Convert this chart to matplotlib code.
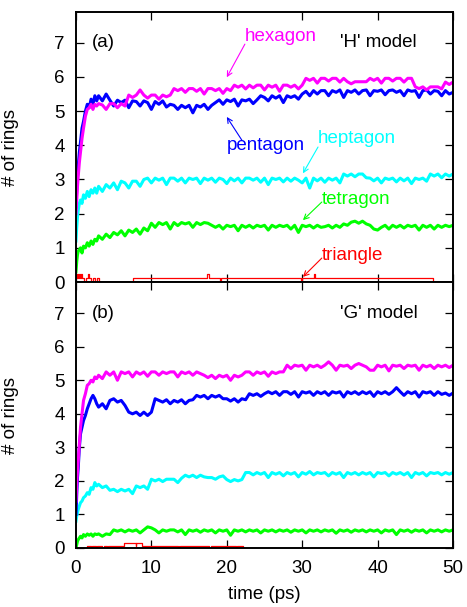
import numpy as np
import matplotlib.pyplot as plt

plt.rcParams['font.family'] = ['Liberation Sans', 'DejaVu Sans']
plt.rcParams['font.size'] = 13.5

# sampling times (ps): dense at the start, then every 0.5 ps
t_early = [0, 0.1, 0.2, 0.3, 0.45, 0.6, 0.8, 1.0, 1.25, 1.5, 1.75, 2.0, 2.25, 2.5, 2.75]
time = np.concatenate([t_early, np.arange(3.0, 50.01, 0.5)])

# ---- 'H' model ----
hex_h = [2.0, 2.4, 2.8, 3.1, 3.5, 3.8, 4.2, 4.5, 4.85, 5.05, 5.1, 5.2, 5.05, 5.2, 5.15,
         5.22, 5.18, 5.05, 5.22, 5.22, 5.1, 5.22, 5.15, 5.47, 5.40,
         5.47, 5.62, 5.47, 5.38, 5.47, 5.47, 5.35, 5.47, 5.42, 5.47,
         5.66, 5.6, 5.66, 5.55, 5.66, 5.66, 5.58, 5.66, 5.5, 5.66,
         5.66, 5.6, 5.66, 5.52, 5.66, 5.6, 5.76, 5.7, 5.76, 5.65,
         5.76, 5.68, 5.76, 5.76, 5.62, 5.76, 5.7, 5.76, 5.58, 5.76,
         5.76, 5.7, 5.76, 5.65, 5.76, 5.96, 5.9, 5.96, 5.82, 5.96,
         5.96, 5.88, 5.96, 5.96, 5.85, 5.96, 5.86, 5.8, 5.86, 5.86,
         5.86, 5.86, 5.96, 5.9, 5.96, 5.82, 5.96, 5.96, 5.88, 5.96,
         5.96, 5.85, 5.96, 5.96, 5.71, 5.66, 5.71, 5.62, 5.71, 5.71,
         5.71, 5.65, 5.85, 5.78, 5.85]
pent_h = [2.2, 2.7, 3.1, 3.4, 3.8, 4.1, 4.5, 4.7, 5.0, 5.2, 5.1, 5.35, 5.2, 5.45, 5.3,
          5.45, 5.3, 5.5, 5.32, 5.15, 5.32, 5.25, 5.32, 5.1, 5.3,
          5.28, 5.15, 5.3, 5.25, 5.05, 5.28, 5.2, 5.3, 5.12, 5.2,
          5.17, 5.05, 5.17, 5.1, 5.17, 4.95, 5.17, 5.12, 5.2, 5.05,
          5.17, 5.25, 5.33, 5.2, 5.33, 5.28, 5.35, 5.15, 5.33, 5.3,
          5.35, 5.22, 5.33, 5.45, 5.4, 5.3, 5.45, 5.38, 5.45, 5.25,
          5.45, 5.4, 5.45, 5.35, 5.5, 5.58, 5.45, 5.6, 5.5, 5.6,
          5.6, 5.45, 5.6, 5.55, 5.62, 5.4, 5.6, 5.55, 5.62, 5.5,
          5.6, 5.62, 5.45, 5.6, 5.58, 5.62, 5.48, 5.6, 5.62, 5.55,
          5.6, 5.45, 5.62, 5.58, 5.6, 5.4, 5.6, 5.62, 5.5, 5.6,
          5.58, 5.45, 5.6, 5.5, 5.55]
hept_h = [1.2, 1.6, 1.9, 2.1, 2.3, 2.4, 2.3, 2.55, 2.45, 2.65, 2.5, 2.7, 2.6, 2.75, 2.6,
          2.8, 2.65, 2.85, 2.75, 2.9, 2.7, 2.95, 2.9, 2.75, 2.95,
          2.95, 2.8, 3.0, 3.04, 2.9, 3.04, 2.98, 3.04, 2.85, 3.04,
          3.04, 2.95, 3.04, 2.9, 3.04, 3.0, 3.04, 2.88, 3.04, 2.98,
          3.04, 2.92, 3.04, 3.0, 2.88, 3.04, 2.96, 3.04, 2.9, 3.04,
          3.04, 2.98, 3.04, 2.92, 3.04, 2.85, 3.04, 3.0, 3.04, 2.93,
          3.04, 2.95, 3.04, 2.98, 2.9, 3.04, 2.75, 3.04, 2.96, 3.04,
          2.92, 3.04, 2.98, 3.04, 2.9, 3.16, 3.1, 3.16, 3.08, 3.16,
          3.16, 3.05, 3.04, 2.96, 3.04, 2.9, 3.04, 3.0, 3.04, 2.93,
          3.04, 2.96, 3.04, 2.88, 3.04, 3.0, 3.04, 2.95, 3.16, 3.1,
          3.16, 3.05, 3.16, 3.1, 3.16]
tetr_h = [0.3, 0.6, 0.8, 0.9, 0.95, 1.0, 0.85, 1.05, 1.0, 1.15, 1.05, 1.2, 1.1, 1.25, 1.2,
          1.35, 1.25, 1.4, 1.3, 1.45, 1.38, 1.5, 1.35, 1.52, 1.45,
          1.55, 1.4, 1.58, 1.5, 1.72, 1.6, 1.74, 1.68, 1.74, 1.55,
          1.74, 1.65, 1.74, 1.7, 1.74, 1.6, 1.74, 1.68, 1.74, 1.72,
          1.66, 1.6, 1.66, 1.55, 1.66, 1.62, 1.66, 1.5, 1.66, 1.6,
          1.66, 1.58, 1.66, 1.62, 1.66, 1.52, 1.66, 1.6, 1.66, 1.62,
          1.66, 1.55, 1.66, 1.45, 1.66, 1.62, 1.66, 1.58, 1.66, 1.6,
          1.62, 1.66, 1.58, 1.66, 1.6, 1.7, 1.66, 1.75, 1.78, 1.72,
          1.78, 1.7, 1.66, 1.55, 1.52, 1.6, 1.66, 1.55, 1.66, 1.6,
          1.66, 1.58, 1.66, 1.62, 1.66, 1.52, 1.66, 1.6, 1.66, 1.55,
          1.66, 1.6, 1.66, 1.62, 1.66]
# triangles change rarely, so keep them as (switch time, value) steps
tri_h_t = [0, 0.15, 0.3, 0.45, 0.55, 0.7, 0.8, 1.1, 1.3, 1.6, 1.7, 2.0, 2.3, 2.5, 2.8, 3.1,
           7.6, 17.4, 17.6, 19.1, 19.25, 29.85, 29.95, 31.6, 31.75, 47.4, 50]
tri_h_v = [0.11, 0.22, 0.11, 0.22, 0.11, 0.22, 0.11, 0.0, 0.11, 0.22, 0.11, 0.0, 0.11, 0.0, 0.11, 0.0,
           0.11, 0.22, 0.11, 0.0, 0.11, 0.0, 0.11, 0.22, 0.11, 0.0, 0.0]

# ---- 'G' model ----
hex_g = [1.4, 1.9, 2.3, 2.6, 3.1, 3.6, 4.0, 4.4, 4.6, 4.85, 4.9, 5.0, 4.95, 5.1, 5.05,
         5.15, 5.05, 5.25, 5.15, 5.25, 5.0, 5.25, 5.2, 5.25, 5.1,
         5.25, 5.18, 5.25, 5.12, 5.25, 5.25, 5.15, 5.25, 5.2, 5.25,
         5.25, 5.1, 5.25, 5.2, 5.25, 5.15, 5.25, 5.2, 5.15, 5.08,
         5.15, 5.05, 5.15, 5.1, 5.15, 5.0, 5.15, 5.1, 5.15, 5.25,
         5.25, 5.15, 5.25, 5.2, 5.25, 5.12, 5.25, 5.2, 5.25, 5.25,
         5.45, 5.35, 5.45, 5.42, 5.45, 5.3, 5.45, 5.4, 5.45, 5.38,
         5.45, 5.55, 5.45, 5.3, 5.45, 5.42, 5.45, 5.35, 5.45, 5.5,
         5.45, 5.4, 5.3, 5.3, 5.45, 5.4, 5.45, 5.28, 5.45, 5.42,
         5.45, 5.35, 5.45, 5.42, 5.45, 5.3, 5.45, 5.4, 5.45, 5.35,
         5.45, 5.4, 5.45, 5.38, 5.45]
pent_g = [1.0, 1.6, 2.1, 2.4, 3.0, 3.4, 3.6, 3.8, 3.95, 4.15, 4.3, 4.45, 4.55, 4.45, 4.3,
          4.2, 4.3, 4.15, 4.4, 4.45, 4.35, 4.4, 4.25, 4.05, 4.0,
          4.05, 3.95, 4.05, 3.95, 4.05, 4.45, 4.4, 4.35, 4.42, 4.3,
          4.4, 4.35, 4.42, 4.3, 4.4, 4.42, 4.55, 4.5, 4.55, 4.45,
          4.55, 4.5, 4.55, 4.45, 4.45, 4.38, 4.45, 4.35, 4.45, 4.42,
          4.6, 4.55, 4.6, 4.52, 4.6, 4.66, 4.6, 4.66, 4.55, 4.66,
          4.66, 4.58, 4.66, 4.5, 4.66, 4.62, 4.66, 4.55, 4.66, 4.6,
          4.66, 4.55, 4.66, 4.62, 4.66, 4.5, 4.66, 4.6, 4.66, 4.58,
          4.66, 4.6, 4.66, 4.52, 4.66, 4.6, 4.66, 4.58, 4.66, 4.78,
          4.66, 4.55, 4.66, 4.6, 4.66, 4.5, 4.66, 4.62, 4.66, 4.55,
          4.66, 4.58, 4.62, 4.55, 4.62]
hept_g = [0.8, 0.95, 1.05, 1.15, 1.25, 1.35, 1.4, 1.5, 1.55, 1.65, 1.6, 1.8, 1.75, 1.95, 1.85,
          1.9, 1.8, 1.85, 1.72, 1.75, 1.68, 1.75, 1.7, 1.75, 1.62,
          1.85, 1.8, 1.85, 1.75, 2.05, 2.0, 2.05, 1.98, 2.05, 2.05,
          2.05, 1.95, 2.08, 2.17, 2.12, 2.17, 2.1, 2.17, 2.12, 2.1,
          2.1, 2.05, 2.12, 2.15, 2.04, 1.98, 2.04, 2.0, 2.04, 2.25,
          2.25, 2.18, 2.25, 2.2, 2.25, 2.1, 2.25, 2.2, 2.25, 2.15,
          2.25, 2.2, 2.25, 2.12, 2.25, 2.2, 2.28, 2.18, 2.25, 2.22,
          2.25, 2.15, 2.25, 2.2, 2.25, 2.1, 2.25, 2.2, 2.25, 2.18,
          2.25, 2.2, 2.25, 2.12, 2.25, 2.22, 2.25, 2.15, 2.25, 2.2,
          2.25, 2.18, 2.25, 2.1, 2.25, 2.2, 2.25, 2.15, 2.25, 2.22,
          2.25, 2.18, 2.25, 2.2, 2.25]
tetr_g = [0.0, 0.1, 0.2, 0.25, 0.3, 0.35, 0.3, 0.4, 0.35, 0.42, 0.38, 0.42, 0.35, 0.42, 0.4,
          0.42, 0.35, 0.42, 0.4, 0.54, 0.5, 0.54, 0.48, 0.54, 0.5,
          0.54, 0.45, 0.54, 0.63, 0.6, 0.54, 0.45, 0.54, 0.5, 0.54,
          0.54, 0.48, 0.54, 0.4, 0.54, 0.5, 0.54, 0.47, 0.54, 0.5,
          0.54, 0.45, 0.54, 0.5, 0.54, 0.38, 0.54, 0.5, 0.54, 0.48,
          0.54, 0.5, 0.54, 0.45, 0.54, 0.5, 0.54, 0.48, 0.54, 0.5,
          0.54, 0.47, 0.54, 0.5, 0.54, 0.45, 0.54, 0.5, 0.54, 0.48,
          0.54, 0.5, 0.54, 0.44, 0.54, 0.5, 0.54, 0.47, 0.54, 0.5,
          0.54, 0.48, 0.54, 0.5, 0.54, 0.45, 0.54, 0.5, 0.54, 0.4,
          0.54, 0.5, 0.54, 0.47, 0.54, 0.5, 0.54, 0.45, 0.54, 0.5,
          0.54, 0.48, 0.54, 0.5, 0.54]
tri_g_t = [0, 1.4, 2.0, 2.15, 2.7, 2.85, 3.5, 3.65, 4.1, 4.25, 6.4, 7.9, 8.0, 8.7,
           13.5, 13.6, 13.7, 13.8, 13.9, 17.7, 17.85, 19.9, 20.05, 21.2, 21.35, 22.2, 50]
tri_g_v = [0, 0.06, 0, 0.06, 0, 0.06, 0, 0.06, 0, 0.06, 0.16, 0.06, 0.16, 0.06,
           0.0, 0.06, 0.0, 0.06, 0.06, 0, 0.06, 0, 0.06, 0, 0.06, 0, 0]

MAG, BLU, CYA, GRN, RED = '#ff00ff', '#0000ff', '#00ffff', '#00ff00', '#ff0000'

fig = plt.figure(figsize=(4.67, 6.07), dpi=100)
ax1 = fig.add_axes([0.1627, 0.5354, 0.8073, 0.4448])
ax2 = fig.add_axes([0.1627, 0.0972, 0.8073, 0.4382])

panels = [
    (ax1, tri_h_t, tri_h_v, tetr_h, hept_h, pent_h, hex_h, 7.9),
    (ax2, tri_g_t, tri_g_v, tetr_g, hept_g, pent_g, hex_g, 7.93),
]
for ax, tt, tv, tet, hep, pen, hx, ytop in panels:
    ax.plot(tt, tv, color=RED, lw=0.9, drawstyle='steps-post')
    ax.plot(time, tet, color=GRN, lw=2.2)
    ax.plot(time, hep, color=CYA, lw=2.2)
    ax.plot(time, pen, color=BLU, lw=2.2)
    ax.plot(time, hx, color=MAG, lw=2.2)
    ax.set_xlim(0, 50)
    ax.set_ylim(0, ytop)
    ax.set_xticks(range(0, 51, 10))
    ax.set_yticks(range(0, 8))
    ax.tick_params(direction='in', length=6, width=0.9, top=True, right=True,
                   labelsize=13.5, pad=8)
    for s in ax.spines.values():
        s.set_linewidth(1.4)
    ax.set_ylabel('# of rings', fontsize=13.5)
    ax.yaxis.set_label_coords(-0.15, 0.5)

ax1.tick_params(labelbottom=False)
ax2.tick_params(axis='x', pad=9)
fig.text(0.565, 0.02, 'time (ps)', ha='center', va='center', fontsize=13.5)

ax1.text(2.1, 7.0, '(a)', ha='left', va='center', fontsize=13.5)
ax1.text(35.0, 7.0, "'H' model", ha='left', va='center', fontsize=13.5)
ax2.text(2.1, 7.0, '(b)', ha='left', va='center', fontsize=13.5)
ax2.text(35.0, 7.0, "'G' model", ha='left', va='center', fontsize=13.5)

# arrow labels for the ring sizes
labels = [
    ('hexagon', MAG, (22.4, 7.19), (22.4, 6.96), (20.0, 5.99)),
    ('pentagon', BLU, (20.0, 4.0), (22.0, 4.15), (20.0, 4.83)),
    ('heptagon', CYA, (32.1, 4.21), (32.1, 3.95), (30.1, 3.18)),
    ('tetragon', GRN, (32.6, 2.40), (32.6, 2.34), (30.1, 1.81)),
    ('triangle', RED, (32.6, 0.79), (32.6, 0.70), (30.1, 0.15)),
]
for name, c, txy, tail, head in labels:
    ax1.text(txy[0], txy[1], name, color=c, ha='left', va='center', fontsize=13.5)
    ax1.annotate('', xy=head, xytext=tail,
                 arrowprops=dict(arrowstyle='->', color=c, lw=0.8,
                                 shrinkA=0, shrinkB=0, mutation_scale=9))

fig.savefig('out.png', dpi=100)
